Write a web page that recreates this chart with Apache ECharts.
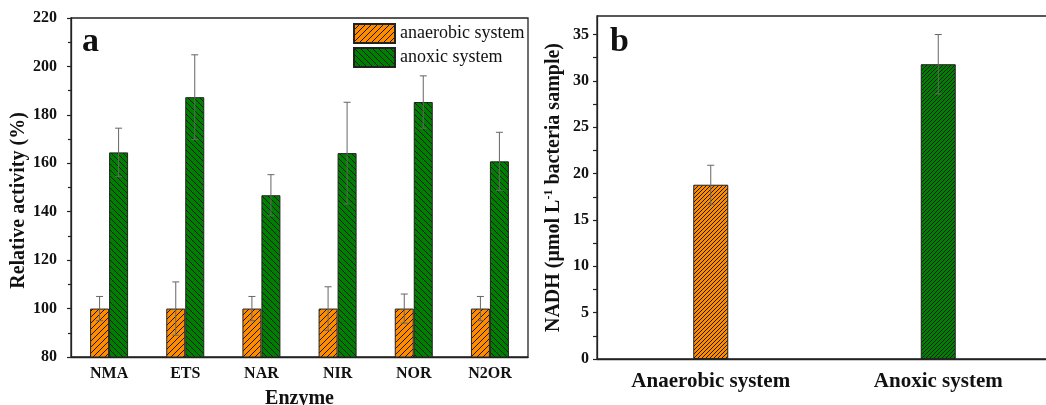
<!DOCTYPE html>
<html>
<head>
<meta charset="utf-8">
<script src="https://cdn.jsdelivr.net/npm/echarts@6/dist/echarts.min.js"></script>
<style>
html, body { margin: 0; padding: 0; background: #fff; }
#chart { width: 1046px; height: 405px; }
</style>
</head>
<body>
<div id="chart"></div>
<script>
// panel a: relative enzyme activity
const enzymes = ['NMA', 'ETS', 'NAR', 'NIR', 'NOR', 'N2OR'];
const anaerobicActivity = [100, 100, 100, 100, 100, 100];
const anaerobicError = [5, 11, 5, 9, 6, 5];
const anoxicActivity = [164.5, 187.3, 146.8, 164.2, 185.3, 160.8];
const anoxicError = [10, 17.5, 8.5, 21, 10.8, 12];
const activityTicks = [80, 100, 120, 140, 160, 180, 200, 220];

// panel b: NADH content
const systems = ['Anaerobic system', 'Anoxic system'];
const nadh = [18.8, 31.8];
const nadhError = [2.1, 3.2];
const nadhTicks = [0, 5, 10, 15, 20, 25, 30, 35];
const nadhMinorTicks = [0, 2.5, 5, 7.5, 10, 12.5, 15, 17.5, 20, 22.5, 25, 27.5, 30, 32.5, 35];

const FONT = 'Liberation Serif, Times New Roman, serif';
const AXIS_COLOR = '#222';
const ORANGE = '#ff8c00';
const GREEN = '#008000';
const BAR_A = 19;
const BAR_B = 35;
const CAP = 3.5;

// diagonal hatch fill made on a small canvas
function hatch(bg, dir, step) {
  const c = document.createElement('canvas');
  c.width = c.height = step;
  const g = c.getContext('2d');
  g.fillStyle = bg;
  g.fillRect(0, 0, step, step);
  g.strokeStyle = '#1a1a1a';
  g.lineWidth = 1;
  g.beginPath();
  for (const o of [-step, 0, step]) {
    if (dir === '/') { g.moveTo(o, step); g.lineTo(o + step, 0); }
    else { g.moveTo(o, 0); g.lineTo(o + step, step); }
  }
  g.stroke();
  return { image: c, repeat: 'repeat' };
}

function errorBars(xIdx, yIdx, values, errors, offset) {
  return {
    type: 'custom',
    xAxisIndex: xIdx,
    yAxisIndex: yIdx,
    z: 5,
    silent: true,
    data: values.map((v, i) => [i, v, errors[i]]),
    encode: { x: 0, y: 1 },
    renderItem(params, api) {
      const i = api.value(0), v = api.value(1), e = api.value(2);
      const top = api.coord([i, v + e]);
      const bot = api.coord([i, v - e]);
      const x = top[0] + offset;
      const style = { stroke: '#666', lineWidth: 1 };
      return {
        type: 'group',
        children: [
          { type: 'line', shape: { x1: x, y1: top[1], x2: x, y2: bot[1] }, style },
          { type: 'line', shape: { x1: x - CAP, y1: top[1], x2: x + CAP, y2: top[1] }, style },
          { type: 'line', shape: { x1: x - CAP, y1: bot[1], x2: x + CAP, y2: bot[1] }, style }
        ]
      };
    }
  };
}

const axisLine = { show: true, lineStyle: { color: AXIS_COLOR, width: 1.3 } };
const tickLabel = { fontFamily: FONT, fontWeight: 'bold', fontSize: 16, color: '#111' };

const chart = echarts.init(document.getElementById('chart'));

chart.setOption({
  backgroundColor: '#fff',
  animation: false,
  grid: [
    { left: 71, top: 18, width: 457, height: 339, outerBoundsMode: 'none', show: true, borderColor: AXIS_COLOR, borderWidth: 1.3 },
    { left: 597, top: 16, width: 455, height: 343, outerBoundsMode: 'none', show: true, borderColor: AXIS_COLOR, borderWidth: 1.3 }
  ],
  legend: {
    data: ['anaerobic system', 'anoxic system'],
    icon: 'rect',
    orient: 'vertical',
    left: 353,
    top: 23,
    itemWidth: 41,
    itemHeight: 19,
    itemGap: 3,
    padding: 0,
    textStyle: { fontFamily: FONT, fontSize: 18, color: '#111' },
    selectedMode: false
  },
  xAxis: [
    {
      type: 'category', gridIndex: 0, data: enzymes,
      axisLine, axisTick: { show: false },
      axisLabel: { ...tickLabel, margin: 9 },
      name: 'Enzyme', nameLocation: 'middle', nameGap: 32,
      nameTextStyle: { fontFamily: FONT, fontWeight: 'bold', fontSize: 20, color: '#111' }
    },
    {
      type: 'category', gridIndex: 1, data: systems,
      axisLine, axisTick: { show: false },
      axisLabel: { fontFamily: FONT, fontWeight: 'bold', fontSize: 21, color: '#111', margin: 12 }
    }
  ],
  yAxis: [
    {
      type: 'value', gridIndex: 0,
      min: activityTicks[0], max: activityTicks[activityTicks.length - 1],
      interval: activityTicks[1] - activityTicks[0],
      axisLine,
      axisTick: { show: true, inside: false, length: 4, lineStyle: { color: AXIS_COLOR, width: 1.2 } },
      minorTick: { show: true, splitNumber: 2, length: 3, lineStyle: { color: AXIS_COLOR, width: 1.2 } },
      splitLine: { show: false },
      axisLabel: { ...tickLabel, margin: 14 },
      name: 'Relative activity (%)', nameLocation: 'middle', nameGap: 39,
      nameTextStyle: { fontFamily: FONT, fontWeight: 'bold', fontSize: 20, color: '#111', padding: [0, 26, 0, 0] }
    },
    {
      type: 'value', gridIndex: 1, min: 0, max: 37,
      axisLine,
      axisTick: { show: true, inside: false, length: 4, customValues: nadhMinorTicks, lineStyle: { color: AXIS_COLOR, width: 1.2 } },
      splitLine: { show: false },
      axisLabel: { ...tickLabel, margin: 8, customValues: nadhTicks },
      name: 'NADH (μmol L{sup|-1} bacteria sample)', nameLocation: 'middle', nameGap: 32,
      nameTextStyle: {
        fontFamily: FONT, fontWeight: 'bold', fontSize: 20, color: '#111',
        rich: { sup: { fontFamily: FONT, fontWeight: 'bold', fontSize: 12, color: '#111', verticalAlign: 'top', padding: [0, 0, 10, 0] } }
      }
    }
  ],
  graphic: [
    { type: 'text', left: 82, top: 25, style: { text: 'a', fontFamily: FONT, fontWeight: 'bold', fontSize: 34, fill: '#111' } },
    { type: 'text', left: 610, top: 25, style: { text: 'b', fontFamily: FONT, fontWeight: 'bold', fontSize: 34, fill: '#111' } }
  ],
  series: [
    {
      name: 'anaerobic system', type: 'bar', xAxisIndex: 0, yAxisIndex: 0,
      data: anaerobicActivity, barWidth: BAR_A, barGap: '0%',
      itemStyle: { color: hatch(ORANGE, '/', 6), borderColor: '#222', borderWidth: 1 }
    },
    {
      name: 'anoxic system', type: 'bar', xAxisIndex: 0, yAxisIndex: 0,
      data: anoxicActivity, barWidth: BAR_A, barGap: '0%',
      itemStyle: { color: hatch(GREEN, '\\', 6), borderColor: '#222', borderWidth: 1 }
    },
    errorBars(0, 0, anaerobicActivity, anaerobicError, -BAR_A / 2),
    errorBars(0, 0, anoxicActivity, anoxicError, BAR_A / 2),
    {
      name: 'NADH', type: 'bar', xAxisIndex: 1, yAxisIndex: 1, barWidth: BAR_B,
      data: nadh.map((v, i) => ({
        value: v,
        itemStyle: { color: hatch(i === 0 ? ORANGE : GREEN, '/', 4), borderColor: '#222', borderWidth: 1 }
      }))
    },
    errorBars(1, 1, nadh, nadhError, 0)
  ]
});
</script>
</body>
</html>
